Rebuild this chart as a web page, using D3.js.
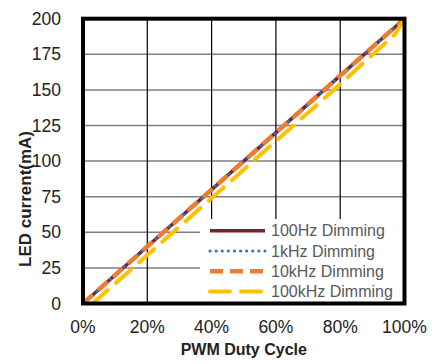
<!DOCTYPE html>
<html>
<head>
<meta charset="utf-8">
<script src="https://cdn.jsdelivr.net/npm/d3@7"></script>
<style>
  body { margin: 0; background: #fff; }
  text { font-family: Arial, "Liberation Sans", sans-serif; }
</style>
</head>
<body>
<div id="chart"></div>
<script>
// duty cycle (%) and LED current (mA)
const duty = [0, 20, 40, 60, 80, 100];
const current100Hz = [0, 40, 80, 120, 160, 200];
const current1kHz = [0, 40, 80, 120, 160, 200];
const current10kHz = [0, 40, 80, 120, 160, 200];
const duty100kHz = [3, 20, 40, 60, 80, 97, 100];
const current100kHz = [0, 34, 74, 114, 154, 189, 200];

const seriesNames = ["100Hz Dimming", "1kHz Dimming", "10kHz Dimming", "100kHz Dimming"];
const xTicks = [0, 20, 40, 60, 80, 100];
const yTicks = [0, 25, 50, 75, 100, 125, 150, 175, 200];

window.addEventListener('load', makeChart);

function makeChart() {
  let width = 437, height = 364;
  let left = 83, right = 404.5, top = 18.7, bottom = 303.5;

  let x = d3.scaleLinear().domain([0, 100]).range([left, right]);
  let y = d3.scaleLinear().domain([0, 200]).range([bottom, top]);

  const svg = d3.select("#chart").append("svg")
      .attr("width", width)
      .attr("height", height);

  // horizontal grid (grey)
  svg.append("g")
    .selectAll("line")
    .data(yTicks.slice(1, -1))
    .join("line")
      .attr("x1", left).attr("x2", right)
      .attr("y1", d => y(d)).attr("y2", d => y(d))
      .attr("stroke", "#7f7f7f")
      .attr("stroke-width", 1.5);

  // vertical grid (black)
  svg.append("g")
    .selectAll("line")
    .data(xTicks.slice(1, -1))
    .join("line")
      .attr("x1", d => x(d)).attr("x2", d => x(d))
      .attr("y1", top).attr("y2", bottom)
      .attr("stroke", "#000")
      .attr("stroke-width", 1.2);

  const series = [
    { name: seriesNames[0], xs: duty, ys: current100Hz, color: "#7b1f2e", w: 3.5, dash: null, cap: "butt" },
    { name: seriesNames[1], xs: duty, ys: current1kHz, color: "#2e75b6", w: 3, dash: "0.1,6", cap: "round" },
    { name: seriesNames[2], xs: duty, ys: current10kHz, color: "#ed7d31", w: 4.5, dash: "13,7", cap: "butt" },
    { name: seriesNames[3], xs: duty100kHz, ys: current100kHz, color: "#ffc000", w: 4, dash: "20,11", cap: "round" }
  ];

  let line = d3.line().x(d => x(d[0])).y(d => y(d[1]));

  svg.append("g")
    .attr("fill", "none")
    .selectAll("path")
    .data(series)
    .join("path")
      .attr("d", s => line(s.xs.map((v, i) => [v, s.ys[i]])))
      .attr("stroke", s => s.color)
      .attr("stroke-width", s => s.w)
      .attr("stroke-dasharray", s => s.dash)
      .attr("stroke-linecap", s => s.cap);

  // legend
  let legX = 200, legY = 219;
  svg.append("rect")
    .attr("x", legX).attr("y", legY)
    .attr("width", right - legX).attr("height", bottom - legY)
    .attr("fill", "#fff");

  const leg = svg.append("g")
    .selectAll("g")
    .data(series)
    .join("g")
      .attr("transform", (d, i) => `translate(${legX + 10},${230.7 + i * 20.3})`);

  leg.append("line")
    .attr("x1", 0).attr("x2", 55)
    .attr("stroke", d => d.color)
    .attr("stroke-width", d => d.w)
    .attr("stroke-dasharray", d => d.dash)
    .attr("stroke-linecap", d => d.cap);

  leg.append("text")
    .attr("x", 61)
    .attr("dy", "0.35em")
    .attr("font-size", 16)
    .attr("fill", "#595959")
    .text(d => d.name);

  // plot border
  svg.append("rect")
    .attr("x", left).attr("y", top)
    .attr("width", right - left).attr("height", bottom - top)
    .attr("fill", "none")
    .attr("stroke", "#000")
    .attr("stroke-width", 4);

  // tick labels
  svg.append("g")
    .selectAll("text")
    .data(yTicks)
    .join("text")
      .attr("x", 61)
      .attr("y", d => y(d))
      .attr("dy", "0.35em")
      .attr("text-anchor", "end")
      .attr("font-size", 17.5)
      .attr("fill", "#222")
      .text(d => d);

  svg.append("g")
    .selectAll("text")
    .data(xTicks)
    .join("text")
      .attr("x", d => x(d))
      .attr("y", 333)
      .attr("text-anchor", "middle")
      .attr("font-size", 17.5)
      .attr("fill", "#222")
      .text(d => d + "%");

  // axis titles
  svg.append("text")
    .attr("x", (left + right) / 2)
    .attr("y", 355)
    .attr("text-anchor", "middle")
    .attr("font-size", 16)
    .attr("font-weight", "bold")
    .attr("fill", "#222")
    .text("PWM Duty Cycle");

  svg.append("text")
    .attr("transform", `translate(31,199) rotate(-90)`)
    .attr("text-anchor", "middle")
    .attr("font-size", 17)
    .attr("font-weight", "bold")
    .attr("fill", "#222")
    .text("LED current(mA)");
}
</script>
</body>
</html>
